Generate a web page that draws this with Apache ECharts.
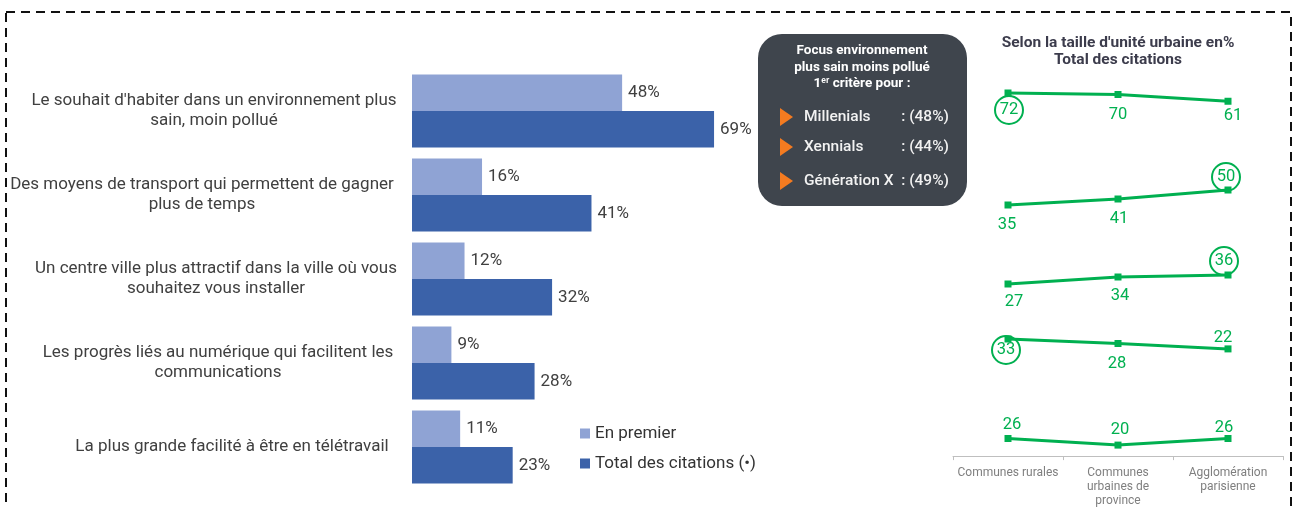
<!DOCTYPE html>
<html><head><meta charset="utf-8">
<script src="https://cdn.jsdelivr.net/npm/echarts@6/dist/echarts.min.js"></script>
<style>html,body{margin:0;padding:0;background:#fff}#c{width:1296px;height:508px}</style>
</head><body><div id="c"></div><script>
// ---- data ----
const categories = [
  "Le souhait d'habiter dans un environnement plus\nsain, moin pollué",
  "Des moyens de transport qui permettent de gagner\nplus de temps",
  "Un centre ville plus attractif dans la ville où vous\nsouhaitez vous installer",
  "Les progrès liés au numérique qui facilitent les\ncommunications",
  "La plus grande facilité à être en télétravail"
];
const seriesNames = ["En premier", "Total des citations (•)"];
const enPremier = [48, 16, 12, 9, 11];
const totalCitations = [69, 41, 32, 28, 23];

const urbanTitle = "Selon la taille d'unité urbaine en%\nTotal des citations";
const urbanCategories = ["Communes rurales", "Communes\nurbaines de\nprovince", "Agglomération\nparisienne"];
const urbanRow1 = [72, 70, 61];
const urbanRow2 = [35, 41, 50];
const urbanRow3 = [27, 34, 36];
const urbanRow4 = [33, 28, 22];
const urbanRow5 = [26, 20, 26];
const urbanHighlight = [0, 2, 2, 0, -1]; // circled value index per row

const focusTitle = ["Focus environnement", "plus sain moins pollué"];
const focusGroups = ["Millenials", "Xennials", "Génération X"];
const focusValues = [48, 44, 49];

// ---- styles / layout ----
const FONT = 'Roboto, "Noto Sans", sans-serif';
const GREEN = '#00B050';
const labelShift = [0, -12, 2, 4, 18]; // horizontal shift of each category label block
const urbanRows = [urbanRow1, urbanRow2, urbanRow3, urbanRow4, urbanRow5];
const rowGrids = [
  {top: 72, height: 60, min: 20, max: 100},
  {top: 180, height: 60, min: 0, max: 60},
  {top: 261, height: 60, min: -10, max: 50},
  {top: 332.7, height: 54, min: -20, max: 40},
  {top: 423.1, height: 33, min: 10, max: 40}
];
const labelOffsets = [
  [[1, 17], [0, 20], [5, 15]],
  [[-1, 20], [1, 20], [-2, -13]],
  [[6, 18], [2, 19], [-4, -14]],
  [[-2, 11], [-1, 20], [-5, -11]],
  [[4, -14], [2, -15], [-4, -11]]
];

const catRich = {};
labelShift.forEach((s, i) => {
  catRich['p' + i] = {
    fontFamily: FONT, fontSize: 17, color: '#404040', lineHeight: 20,
    padding: s >= 0 ? [0, 0, 0, 2 * s] : [0, -2 * s, 0, 0]
  };
});

const grids = [{left: 412, top: 69, width: 350.2, height: 420, outerBoundsMode: 'none'}];
const xAxes = [{type: 'value', gridIndex: 0, min: 0, max: 80, show: false}];
const yAxes = [{
  type: 'category', gridIndex: 0, inverse: true, data: categories,
  axisLine: {show: false}, axisTick: {show: false},
  axisLabel: {
    margin: 198, align: 'center', fontFamily: FONT, fontSize: 17, color: '#404040', lineHeight: 20,
    formatter: (v, i) => v.split('\n').map(l => '{p' + i + '|' + l + '}').join('\n'),
    rich: catRich
  }
}];
const barLabel = {show: true, position: 'right', distance: 6, formatter: '{c}%', fontFamily: FONT, fontSize: 17, color: '#404040'};
const series = [
  {
    name: seriesNames[0], type: 'bar', xAxisIndex: 0, yAxisIndex: 0, data: enPremier,
    barGap: '0%', barCategoryGap: '13%', itemStyle: {color: '#8FA3D4'}, label: barLabel
  },
  {
    name: seriesNames[1], type: 'bar', xAxisIndex: 0, yAxisIndex: 0, data: totalCitations,
    barGap: '0%', barCategoryGap: '13%', itemStyle: {color: '#3B62A9'}, label: barLabel
  }
];

urbanRows.forEach((row, r) => {
  const g = rowGrids[r];
  const gi = r + 1;
  grids.push({left: 953, width: 330, top: g.top, height: g.height, outerBoundsMode: 'none'});
  const isLast = r === urbanRows.length - 1;
  xAxes.push({
    type: 'category', gridIndex: gi, data: urbanCategories, boundaryGap: true,
    show: isLast,
    axisLine: {show: isLast, lineStyle: {color: '#BFBFBF', width: 1}},
    axisTick: {show: isLast, length: 4, lineStyle: {color: '#BFBFBF'}},
    axisLabel: {show: isLast, margin: 10, fontFamily: FONT, fontSize: 12, color: '#7F7F7F', lineHeight: 14, interval: 0}
  });
  yAxes.push({type: 'value', gridIndex: gi, min: g.min, max: g.max, show: false});
  series.push({
    type: 'line', xAxisIndex: gi, yAxisIndex: gi,
    symbol: 'rect', symbolSize: 7, lineStyle: {color: GREEN, width: 3}, itemStyle: {color: GREEN},
    data: row.map((v, i) => {
      const hl = urbanHighlight[r] === i;
      const lbl = {
        show: true, position: 'inside', offset: labelOffsets[r][i], formatter: '{c}',
        fontFamily: FONT, fontSize: 16.5, color: GREEN
      };
      if (hl) Object.assign(lbl, {
        width: 28, height: 28, lineHeight: 28, align: 'center', verticalAlign: 'middle',
        borderColor: GREEN, borderWidth: 1, borderRadius: 15, backgroundColor: 'rgba(255,255,255,0)'
      });
      return {value: v, label: lbl};
    }),
    z: 3
  });
});

const graphics = [
  {type: 'rect', shape: {x: 6, y: 12, width: 1285, height: 520}, style: {fill: 'none', stroke: '#111', lineWidth: 2, lineDash: [9, 6]}, silent: true},
  {type: 'rect', shape: {x: 758, y: 34, width: 209, height: 172, r: 24}, style: {fill: '#3F454D'}},
  {type: 'text', x: 862, y: 51, style: {text: focusTitle[0], fill: '#fff', font: 'bold 13.5px ' + FONT, align: 'center', verticalAlign: 'middle'}},
  {type: 'text', x: 862, y: 68, style: {text: focusTitle[1], fill: '#fff', font: 'bold 13.5px ' + FONT, align: 'center', verticalAlign: 'middle'}},
  {type: 'text', x: 862, y: 84, style: {
    text: '1{sup|er} critère pour :', fill: '#fff', font: 'bold 13.5px ' + FONT, align: 'center', verticalAlign: 'middle',
    rich: {sup: {fontSize: 8.5, fontWeight: 'bold', fill: '#fff', padding: [0, 0, 6, 0]}}
  }},
  {type: 'text', x: 1118, y: 52, style: {text: urbanTitle, fill: '#3C3C4C', font: 'bold 15.5px ' + FONT, align: 'center', verticalAlign: 'middle', lineHeight: 17}}
];
const itemYs = [117, 147, 181];
focusGroups.forEach((name, i) => {
  const y = itemYs[i];
  graphics.push({type: 'polygon', shape: {points: [[780, y - 9], [793, y], [780, y + 9]]}, style: {fill: '#F47B20'}});
  graphics.push({type: 'text', x: 804, y: y, style: {text: name, fill: '#F2F2F2', font: '500 15.5px ' + FONT, verticalAlign: 'middle'}});
  graphics.push({type: 'text', x: 949, y: y, style: {text: ': (' + focusValues[i] + '%)', fill: '#F2F2F2', font: '500 15.5px ' + FONT, align: 'right', verticalAlign: 'middle'}});
});

const chart = echarts.init(document.getElementById('c'));
chart.setOption({
  animation: false,
  textStyle: {fontFamily: FONT},
  legend: {
    data: seriesNames, orient: 'vertical', left: 575, top: 420, itemWidth: 10, itemHeight: 10, itemGap: 13,
    icon: 'rect', textStyle: {fontFamily: FONT, fontSize: 17, color: '#333'}, selectedMode: false
  },
  grid: grids, xAxis: xAxes, yAxis: yAxes, series: series, graphic: graphics
});
</script></body></html>
